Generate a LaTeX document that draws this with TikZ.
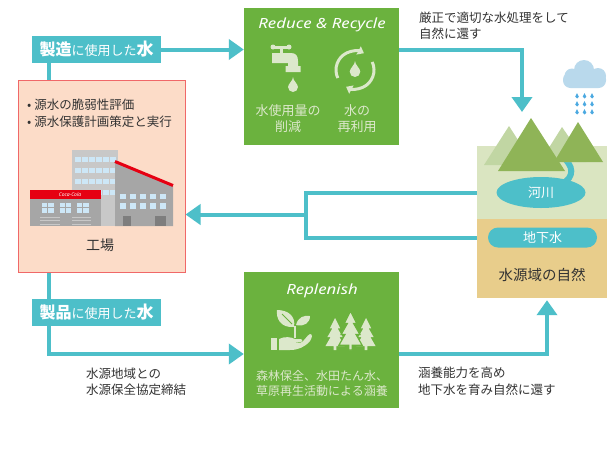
\documentclass[tikz,border=0pt]{standalone}
\usepackage{fontspec}
\setmainfont{Noto Sans CJK JP}
\newfontfamily\latinf{Noto Sans}
\newfontfamily\titlef{Noto Sans}[FakeStretch=1.2]
\usetikzlibrary{arrows.meta,calc,shapes.geometric}

\definecolor{flowteal}{HTML}{4DBFC9}
\definecolor{boxgreen}{HTML}{6BB23E}
\definecolor{pale}{HTML}{DCE8CB}
\definecolor{ink}{HTML}{333333}
\definecolor{factfill}{HTML}{FCDCC8}
\definecolor{factline}{HTML}{F06868}
\definecolor{natgreen}{HTML}{DAE5C1}
\definecolor{nattan}{HTML}{E8CD8B}
\definecolor{mtndark}{HTML}{8FB457}
\definecolor{mtnlight}{HTML}{C1D6A3}
\definecolor{cloud}{HTML}{B9D9EC}
\definecolor{rain}{HTML}{4BA9E1}
\definecolor{bldlight}{HTML}{C8C8C8}
\definecolor{bldgray}{HTML}{A6A6A6}
\definecolor{blddark}{HTML}{7E7E7E}
\definecolor{glass}{HTML}{CDE7F7}
\definecolor{cokered}{HTML}{E60012}

\tikzset{
  droplet/.pic={\path[pic actions] (0,0) .. controls (0,0.25) and (-0.33,0.45) .. (-0.33,0.67)
      arc (180:0:0.33) .. controls (0.33,0.45) and (0,0.25) .. (0,0) -- cycle;},
  pine/.pic={\path[pic actions] (0,0) -- (0.16,0.32) -- (0.08,0.32) -- (0.24,0.6) -- (0.14,0.6)
      -- (0.3,0.88) -- (0.045,0.88) -- (0.045,1) -- (-0.045,1) -- (-0.045,0.88) -- (-0.3,0.88)
      -- (-0.14,0.6) -- (-0.24,0.6) -- (-0.08,0.32) -- (-0.16,0.32) -- cycle;}
}

\begin{document}
\begin{tikzpicture}[x=1pt,y=-1pt,
  conn/.style={draw=flowteal,line width=4pt,-{Triangle[length=15pt,width=20pt]}},
  pipe/.style={draw=flowteal,line width=4pt},
  tagbox/.style={fill=flowteal,text=white,minimum width=129pt,minimum height=27pt,inner sep=0pt},
  greenbox/.style={fill=boxgreen,minimum width=155pt,inner sep=0pt},
  note/.style={text=ink,font=\fontsize{12.5}{16.5}\selectfont,align=left,anchor=west,inner sep=0pt},
  icontext/.style={text=pale,font=\fontsize{13}{16}\selectfont,align=center,inner sep=0pt},
  boxtitle/.style={text=white,font=\titlef\itshape\fontsize{14}{14}\selectfont,inner sep=0pt},
  win/.style={fill=glass}
]
\useasboundingbox (0,0) rectangle (612,448);
\fill[white] (0,0) rectangle (612,448);

% ---------- main blocks ----------
\node[draw=factline,fill=factfill,line width=1pt,minimum width=167pt,minimum height=192pt,inner sep=0pt] (fac) at (101.5,176) {};
\node[greenbox,minimum height=137pt] (rr) at (321.5,76.5) {};
\node[greenbox,minimum height=136pt] (rp) at (321.5,340) {};
\node[tagbox] (mfg) at (96.5,49.5)
  {\fontsize{16}{16}\selectfont\bfseries 製造\fontsize{13}{13}\selectfont\mdseries に使用した\fontsize{17}{17}\selectfont\bfseries 水};
\node[tagbox] (prd) at (96.5,312.5)
  {\fontsize{16}{16}\selectfont\bfseries 製品\fontsize{13}{13}\selectfont\mdseries に使用した\fontsize{17}{17}\selectfont\bfseries 水};
\node[minimum width=130pt,minimum height=152pt,inner sep=0pt] (nat) at (542,222) {};

% ---------- nature block ----------
\fill[natgreen] (477,146) rectangle (607,219);
\fill[nattan] (477,219) rectangle (607,298);
\draw[flowteal,line width=6pt] (566,160) .. controls (575,170) and (573,180) .. (556,187);
\fill[mtnlight] (509,126) -- (484,165) -- (534,165) -- cycle;
\fill[mtnlight] (562,127) -- (540,162) -- (586,162) -- cycle;
\fill[mtndark] (531,118) -- (498,171) -- (565,171) -- cycle;
\fill[mtndark] (578,122) -- (554,162) -- (603,162) -- cycle;
\node[ellipse,fill=flowteal,minimum width=89pt,minimum height=31pt,inner sep=0pt,text=white,
      font=\fontsize{13}{13}\selectfont] (river) at (541,192.5) {河川};
\node[fill=flowteal,rounded corners=10pt,minimum width=109pt,minimum height=20pt,inner sep=0pt,text=white,
      font=\fontsize{13}{13}\selectfont] (gwnode) at (542.5,237.5) {地下水};
\node[text=ink,font=\fontsize{14.5}{14.5}\selectfont,inner sep=0pt] (natlabel) at (542,275) {水源域の自然};

% cloud and rain
\fill[cloud] (584,70) circle (10) (572,76) circle (7.5) (598,76) circle (8);
\fill[cloud,rounded corners=7.5pt] (563,72) rectangle (606,88);
\foreach \dx in {577,584.5,592}
  \foreach \dy in {93,101,109}
    \pic[fill=rain,scale=5.5] at (\dx,\dy) {droplet};

% ---------- connectors ----------
\coordinate (mfgfoot) at ([xshift=17pt]mfg.south west);
\coordinate (prdtop) at ([xshift=17pt]prd.north west);
\coordinate (prdfoot) at ([xshift=17pt]prd.south west);
\coordinate (rpin) at ([yshift=-14pt]rp.west);
\coordinate (rrout) at (rr.east |- mfg.east);
\coordinate (rpout) at (rp.east |- rpin);
\coordinate (peak) at (522,112);
\coordinate (natin) at ([xshift=5pt,yshift=-2pt]nat.south);
\coordinate (jn) at (306,214.5);

\draw[conn] (mfg.east) -- (mfg.east -| rr.west);
\draw[pipe] (mfgfoot) -- (mfgfoot |- fac.north);
\draw[pipe] (prdtop |- fac.south) -- (prdtop);
\draw[conn] (prdfoot) |- (rpin);
\draw[conn] (rrout) -| (peak);
\draw[conn] (rpout) -| (natin);
\draw[pipe] (nat.west |- river.center) -- (jn |- river.center) -- (jn |- gwnode.center) -- (nat.west |- gwnode.center);
\draw[conn] (jn) -- (jn -| fac.east);

% ---------- free texts ----------
\node[note] (t1) at (419,25.5) {厳正で適切な水処理をして\\自然に還す};
\node[note] (t2) at (86,382) {水源地域との\\水源保全協定締結};
\node[note] (t3) at (418,381) {涵養能力を高め\\地下水を育み自然に還す};

% ---------- factory ----------
\node[note] (tasks) at (27,113) {• 源水の脆弱性評価\\• 源水保護計画策定と実行};
\node[text=ink,font=\fontsize{14}{14}\selectfont,inner sep=0pt] (plant) at (100,245) {工場};
% tower
\fill[bldlight] (72,150) rectangle (118,226);
\foreach \r in {156.5,167.5,178.5,189.5}
  \foreach \c in {75,82,89,96,103,110}
    \fill[win] (\c,\r) rectangle ++(5.5,5.5);
% right hall
\fill[bldgray] (115,162) -- (173,186) -- (173,226) -- (115,226) -- cycle;
\draw[cokered,line width=3pt] (115,161.5) -- (173,185.5);
\foreach \r in {193.5,203}
  \foreach \c in {120,130,140,150,160}
    \fill[win] (\c,\r) rectangle ++(6,5.5);
\fill[blddark] (123,216) rectangle (131,226);
\fill[blddark] (155,216) rectangle (166,226);
% front hall
\fill[bldgray] (30,190) rectangle (101,226);
\fill[cokered] (30,190) rectangle (101,199);
\node[text=white,font=\latinf\itshape\fontsize{5}{5}\selectfont,inner sep=0pt] (logo) at (70,194.5) {Coca-Cola};
\foreach \c in {42,59.5,77}{
  \fill[win] (\c,203) rectangle ++(11.5,9.5);
  \draw[bldgray,line width=0.8pt] (\c+5.75,203) -- ++(0,9.5) (\c,207.75) -- ++(11.5,0);
}
\foreach \r in {217,220.5,224}{
  \draw[bldlight,line width=0.8pt] (40,\r) -- (60,\r);
  \draw[bldlight,line width=0.8pt] (72,\r) -- (91,\r);
}

% ---------- Reduce & Recycle ----------
\node[boxtitle] (rrtitle) at (322,25) {Reduce \& Recycle};
\fill[pale] (273,45.5) rectangle (289,48.5);
\fill[pale] (273,47) circle (2.5) (289,47) circle (2.5);
\fill[pale] (279.5,47) rectangle (282.5,54);
\fill[pale] (272,53) -- (291,53) .. controls (296,53) and (298,56) .. (298,61) -- (298,66) -- (300.5,66)
  -- (300.5,72) -- (285.5,72) -- (285.5,66) -- (288,66) -- (288,63) -- (272,63) -- cycle;
\pic[fill=pale,scale=15] at (293,77) {droplet};
\begin{scope}[shift={(355,70)},yscale=-1]
  \draw[pale,line width=3pt,-{Triangle[length=6pt,width=9pt]}] (205:19) arc (205:62:19);
  \draw[pale,line width=3pt,-{Triangle[length=6pt,width=9pt]}] (25:19) arc (25:-118:19);
\end{scope}
\pic[fill=pale,scale=16] at (355,61) {droplet};
\node[icontext] (cut) at (288,119) {水使用量の\\削減};
\node[icontext] (reuse) at (357,119) {水の\\再利用};

% ---------- Replenish ----------
\node[boxtitle] (rptitle) at (322,291) {Replenish};
\fill[pale] (271,338) rectangle (277,350);
\fill[pale] (279,339) .. controls (285,336) and (291,337) .. (295,339) -- (300,339)
  .. controls (303,339) and (303,342) .. (300,342) -- (292,342) -- (300,343)
  .. controls (304,342) and (307,335) .. (310,334) .. controls (313,334) and (312,338) .. (310,341)
  .. controls (305,347) and (298,350) .. (290,350) -- (279,350) -- cycle;
\draw[pale,line width=2pt] (295,326) -- (295,338);
\fill[pale] (294,327) .. controls (280,328) and (276,318) .. (277,310) .. controls (288,310) and (296,316) .. (294,327);
\fill[pale] (296,325) .. controls (298,317) and (304,315) .. (310,316) .. controls (310,323) and (304,327) .. (296,325);
\draw[boxgreen,line width=0.8pt] (292,324) -- (282,314);
\pic[fill=pale,scale=32] at (335,318) {pine};
\pic[fill=pale,scale=32] at (366,318) {pine};
\pic[fill=pale,draw=boxgreen,line width=1.2pt,scale=39] at (350.5,311) {pine};
\node[icontext,font=\fontsize{12}{15}\selectfont] (act) at (322,383.5) {森林保全、水田たん水、\\草原再生活動による涵養};
\end{tikzpicture}
\end{document}
